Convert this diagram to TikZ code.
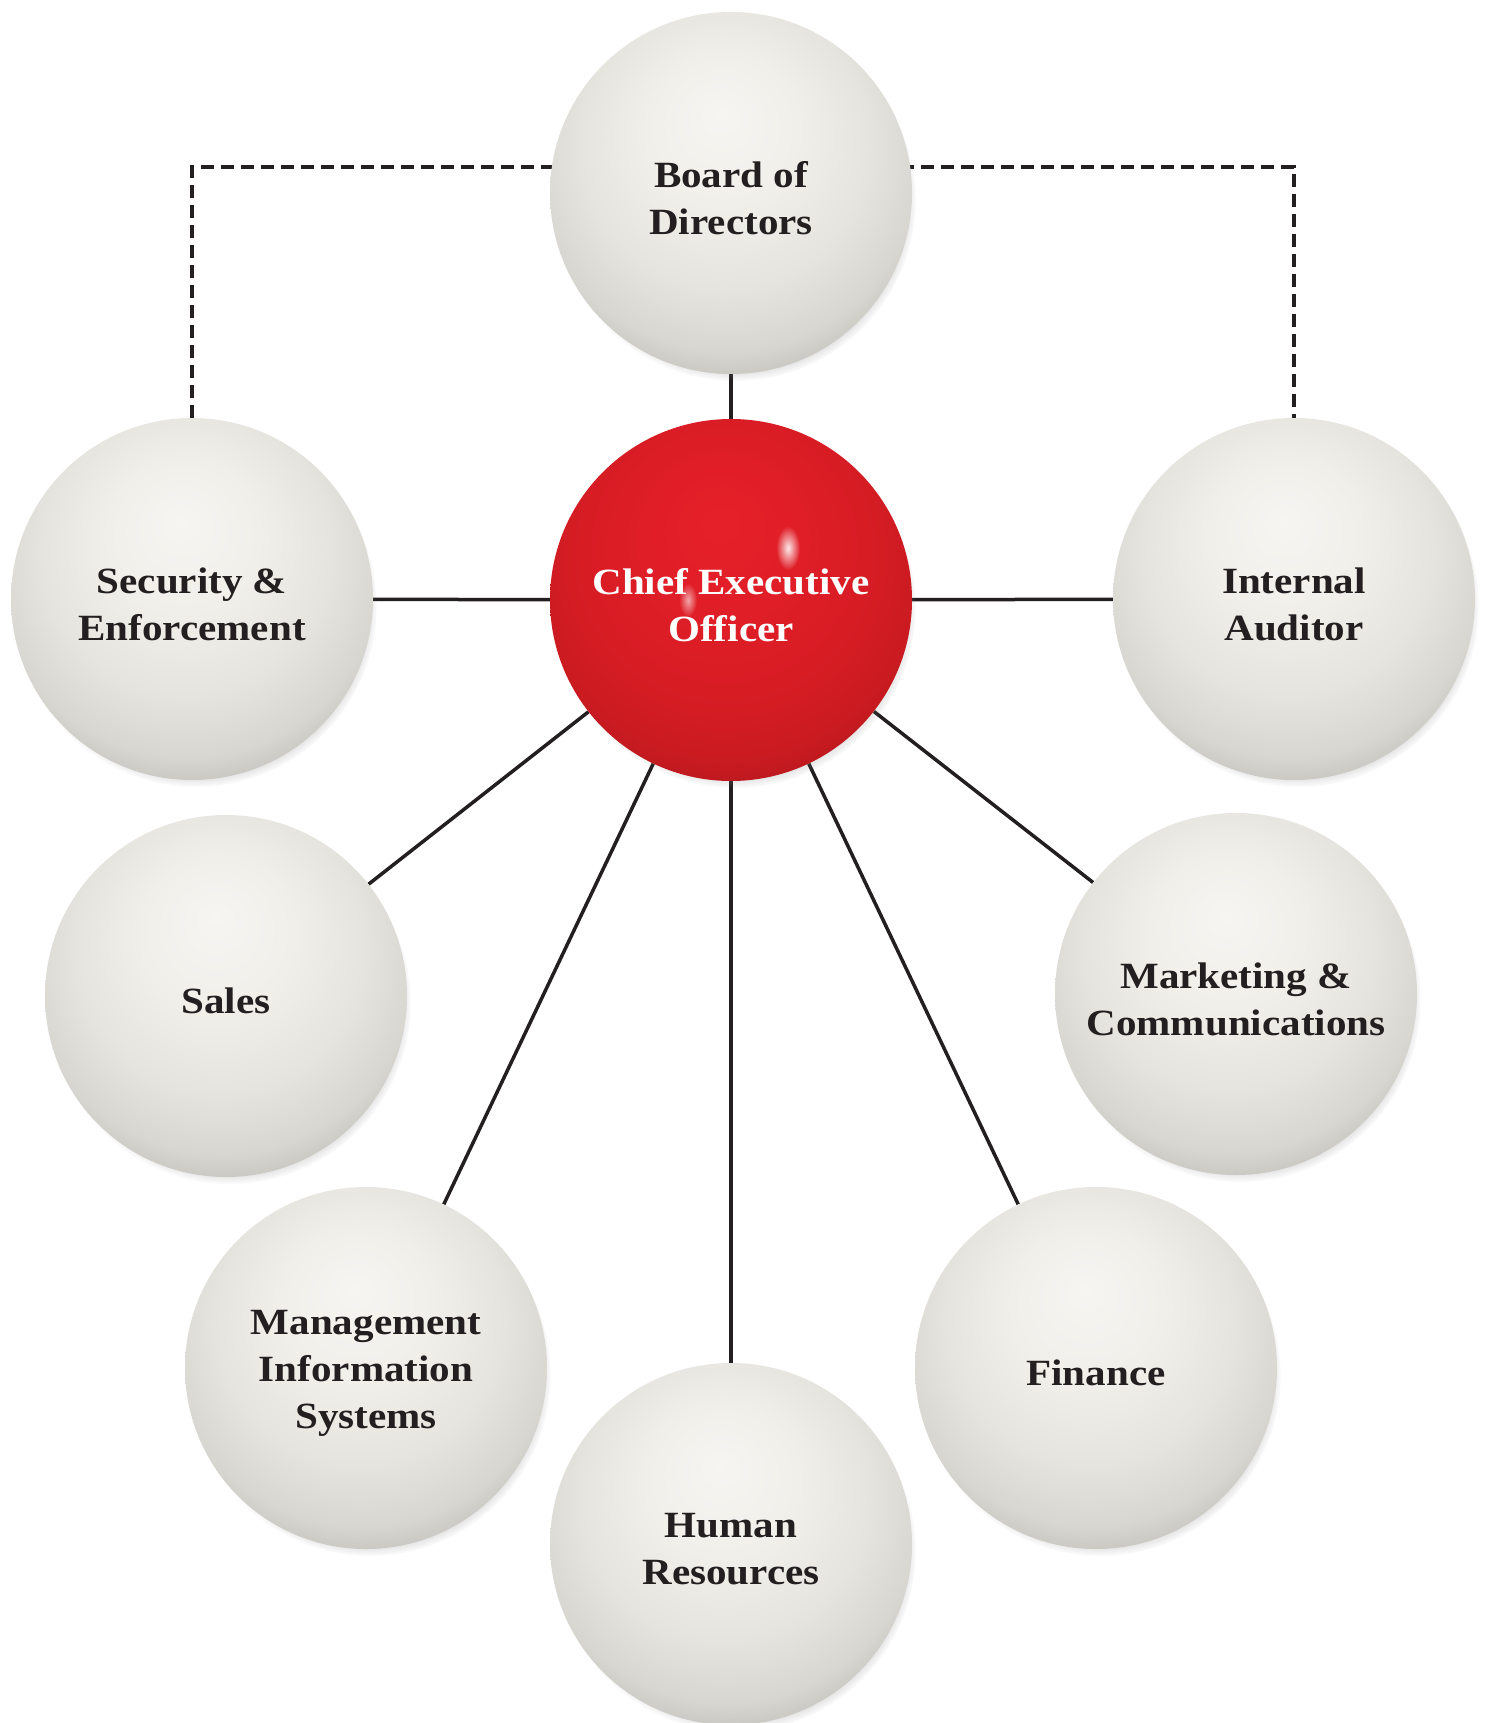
\documentclass[tikz,border=0pt]{standalone}
\usepackage{fontspec}
\setmainfont{Liberation Serif}[FakeStretch=1.11]
\usetikzlibrary{shadows,backgrounds,fadings}
\definecolor{txt}{HTML}{231F20}
\definecolor{wb0}{HTML}{F6F5F1}
\definecolor{wb1}{HTML}{F0EFEA}
\definecolor{wb2}{HTML}{E6E4DE}
\definecolor{wb3}{HTML}{D8D6D0}
\definecolor{wb4}{HTML}{BEBCB6}
\definecolor{wb5}{HTML}{8A8883}
\definecolor{rb0}{HTML}{E62029}
\definecolor{rb1}{HTML}{E01E27}
\definecolor{rb2}{HTML}{D71C24}
\definecolor{rb3}{HTML}{CA1B21}
\definecolor{rb4}{HTML}{B3171C}
\definecolor{rb5}{HTML}{8A1216}
\pgfdeclareradialshading{wballshade}{\pgfpoint{-1.5bp}{11bp}}{color(0bp)=(wb0); color(10.5bp)=(wb1); color(20bp)=(wb2); color(27bp)=(wb3); color(32bp)=(wb4); color(35.5bp)=(wb5); color(50bp)=(wb5)}
\pgfdeclareradialshading{rballshade}{\pgfpoint{-1.5bp}{11bp}}{color(0bp)=(rb0); color(10.5bp)=(rb1); color(20bp)=(rb2); color(27bp)=(rb3); color(32bp)=(rb4); color(35.5bp)=(rb5); color(50bp)=(rb5)}
\tikzfading[name=softspot, inner color=transparent!0, outer color=transparent!100]
\tikzset{
  ball/.style={circle, minimum size=362pt, inner sep=0pt,
    circular drop shadow={shadow xshift=4pt, shadow yshift=-7pt, opacity=0.6, shadow scale=1.0}},
  wball/.style={ball, shade, shading=wballshade},
  rball/.style={ball, shade, shading=rballshade},
  lbl/.style={align=center, inner sep=0pt, font=\fontsize{37}{47}\selectfont\bfseries, text=txt},
  rlbl/.style={lbl, text=white},
  link/.style={line width=3.5pt, draw=txt},
  dlink/.style={line width=3.8pt, draw=txt, dash pattern=on 13pt off 7pt},
  glint/.style={white, path fading=softspot}
}
\begin{document}
\begin{tikzpicture}[x=1pt,y=-1pt]
\clip (0,0) rectangle (1489,1723);
\useasboundingbox (0,0) rectangle (1489,1723);
\node[wball] (board) at (731,193) {};
\node[rball] (ceo) at (731,600) {};
\node[wball] (sec) at (192,599) {};
\node[wball] (aud) at (1294,599) {};
\node[wball] (sales) at (226,996) {};
\node[wball] (mkt) at (1236,994) {};
\node[wball] (mis) at (366,1368) {};
\node[wball] (fin) at (1096,1368) {};
\node[wball] (hr) at (731,1544) {};
\fill[glint, opacity=0.9] (788,548) ellipse (12 and 22);
\fill[glint, opacity=0.6] (688,600) ellipse (9 and 17);
\node[lbl] (boardt) at (731,198) {Board of\\Directors};
\node[rlbl] (ceot) at (731,605) {Chief Executive\\Officer};
\node[lbl] (sect) at (192,604) {Security \&\\Enforcement};
\node[lbl] (audt) at (1294,604) {Internal\\Auditor};
\node[lbl] (salest) at (226,1001) {Sales};
\node[lbl] (mktt) at (1236,999) {Marketing \&\\Communications};
\node[lbl] (mist) at (366,1373) {Management\\Information\\Systems};
\node[lbl] (fint) at (1096,1373) {Finance};
\node[lbl] (hrt) at (731,1549) {Human\\Resources};
\coordinate (dtop) at (731,167);
\begin{scope}[on background layer]
\fill[white] (0,0) rectangle (1489,1723);
\draw[dlink] (sec.north) |- (dtop) -| (aud.north);
\draw[link] (ceo) -- (board);
\draw[link] (ceo) -- (sec);
\draw[link] (ceo) -- (aud);
\draw[link] (ceo) -- (sales);
\draw[link] (ceo) -- (mkt);
\draw[link] (ceo) -- (mis);
\draw[link] (ceo) -- (fin);
\draw[link] (ceo) -- (hr);
\end{scope}
\end{tikzpicture}
\end{document}
